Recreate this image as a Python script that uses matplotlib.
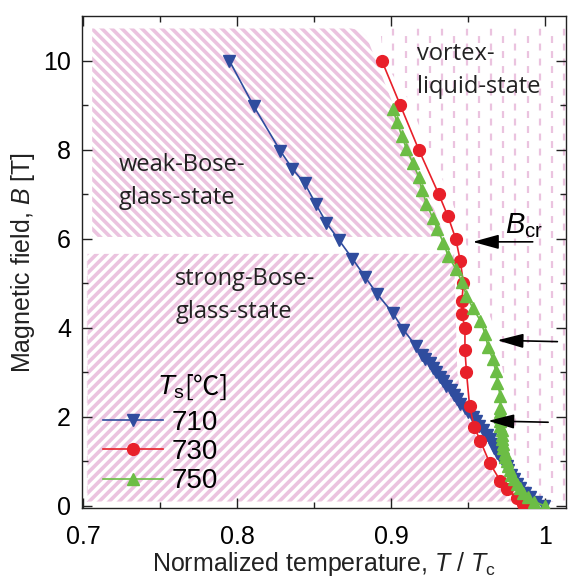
import numpy as np
import matplotlib
matplotlib.use("Agg")
import matplotlib.pyplot as plt
from matplotlib.patches import Polygon
from matplotlib.collections import LineCollection

# --- data ---
t710 = [0.795, 0.811, 0.828, 0.836, 0.844, 0.851, 0.858, 0.866, 0.875, 0.883,
        0.891, 0.901, 0.908, 0.916,
        0.920, 0.922, 0.925, 0.927, 0.929, 0.932, 0.934, 0.936, 0.939, 0.941,
        0.943, 0.945, 0.948, 0.950, 0.953, 0.955, 0.957, 0.960, 0.962, 0.964,
        0.966, 0.967, 0.969, 0.971, 0.973, 0.975, 0.976, 0.978, 0.980, 0.982,
        0.984, 0.987, 0.990, 0.994, 0.999]
b710 = [10.0, 8.97, 7.98, 7.57, 7.24, 6.79, 6.36, 5.98, 5.55, 5.15,
        4.76, 4.34, 3.96, 3.60,
        3.4, 3.3, 3.2, 3.1, 3.0, 2.9, 2.8, 2.7, 2.6, 2.5,
        2.4, 2.3, 2.2, 2.1, 2.0, 1.9, 1.8, 1.7, 1.6, 1.5,
        1.4, 1.3, 1.2, 1.1, 1.0, 0.9, 0.8, 0.7, 0.6, 0.5,
        0.4, 0.3, 0.2, 0.1, 0.0]

t730 = [0.894, 0.906, 0.918, 0.931, 0.937, 0.942, 0.945, 0.947, 0.946, 0.946,
        0.948, 0.948, 0.949, 0.951, 0.954, 0.958, 0.964, 0.971, 0.975, 0.982, 0.986]
b730 = [10.0, 9.0, 8.0, 7.0, 6.5, 6.0, 5.5, 5.0, 4.6, 4.3,
        4.0, 3.5, 3.0, 2.25, 1.78, 1.46, 0.97, 0.56, 0.38, 0.17, 0.04]

t750 = [0.901, 0.904, 0.907, 0.910, 0.914, 0.918, 0.920, 0.923, 0.927, 0.930,
        0.934, 0.937, 0.942, 0.946, 0.949, 0.953, 0.958, 0.961, 0.963, 0.966,
        0.968, 0.969, 0.971, 0.971,
        0.971, 0.971, 0.971, 0.971, 0.972, 0.972, 0.972, 0.973, 0.973, 0.974,
        0.974, 0.975, 0.976, 0.977, 0.978, 0.980, 0.982, 0.984, 0.986, 0.989,
        0.993, 1.000]
b750 = [8.92, 8.61, 8.31, 8.02, 7.71, 7.39, 7.10, 6.79, 6.47, 6.22,
        5.91, 5.62, 5.33, 5.03, 4.72, 4.45, 4.16, 3.87, 3.57, 3.30,
        3.03, 2.76, 2.47, 2.20,
        2.1, 2.0, 1.9, 1.8, 1.7, 1.6, 1.5, 1.4, 1.3, 1.2,
        1.1, 1.0, 0.9, 0.8, 0.7, 0.6, 0.5, 0.4, 0.3, 0.2,
        0.1, 0.0]

series_labels = ["710", "730", "750"]

# phase regions (T/Tc, B) outlines
weak_x = [0.706, 0.706, 0.874, 0.880, 0.884, 0.935]
weak_y = [6.04, 10.72, 10.72, 10.68, 10.55, 6.04]
strong_x = [0.703, 0.703, 0.941, 0.943, 0.946, 0.952, 0.960, 0.967, 0.973, 0.979]
strong_y = [0.1, 5.66, 5.66, 3.0, 2.4, 1.8, 1.2, 0.7, 0.35, 0.1]
liquid_x = [0.893, 1.0136, 1.0136, 0.995, 0.988, 0.982, 0.978, 0.975, 0.974,
            0.970, 0.965, 0.958, 0.952, 0.948, 0.940, 0.925, 0.910, 0.895]
liquid_y = [10.72, 10.72, 0.1, 0.1, 0.4, 0.8, 1.5, 2.2, 2.8,
            3.5, 4.2, 4.8, 5.4, 6.0, 6.8, 8.0, 9.2, 10.0]
strip_x = [0.6995, 0.7035, 0.7035, 0.6995]
strip_y = [0.1, 0.1, 5.66, 5.66]

XMIN, XMAX = 0.6994, 1.0136
YMIN, YMAX = -0.045, 11.0

plt.rcParams["font.family"] = ["Liberation Sans", "DejaVu Sans"]
plt.rcParams["mathtext.fontset"] = "custom"
plt.rcParams["mathtext.rm"] = "Liberation Sans"
plt.rcParams["mathtext.it"] = "Liberation Sans:italic"
plt.rcParams["lines.scale_dashes"] = False

fig = plt.figure(figsize=(5.68, 5.83), dpi=100)
ax = fig.add_axes([82 / 568, 1 - 508 / 583, 484 / 568, 492 / 583])
ax.set_xlim(XMIN, XMAX)
ax.set_ylim(YMIN, YMAX)

pink = "#EBC3DF"
# pixels per data unit, used to get 45 degree stripes
px_x = 484 / (XMAX - XMIN)
px_y = 492 / (YMAX - YMIN)
k = px_x / px_y

# vertical dashed pattern (vortex liquid)
cols = np.arange(0.7035, XMAX, 12.2 / px_x)
for px, py in [(liquid_x, liquid_y), (strip_x, strip_y)]:
    clip = Polygon(np.column_stack([px, py]), closed=True, facecolor="none",
                   edgecolor="none", zorder=0.4)
    ax.add_patch(clip)
    for j, off in enumerate([0.0, 5.4]):
        lc = ax.vlines(cols[j::2], YMIN, YMAX, colors=pink, linewidth=1.6,
                       linestyles=[(off, (5.0, 5.8))], zorder=0.5)
        lc.set_clip_path(clip)

# diagonal hatch (Bose glass regions)
def stripes(px, py, sign):
    patch = Polygon(np.column_stack([px, py]), closed=True, facecolor="white",
                    edgecolor="none", zorder=1)
    ax.add_patch(patch)
    step = 10.0 / px_y
    segs = []
    for c in np.arange(-60, 60, step):
        x0, x1 = XMIN, XMAX
        segs.append([(x0, c), (x1, c + sign * k * (x1 - x0))])
    lc = LineCollection(segs, colors=pink, linewidths=2.6, zorder=1.1)
    ax.add_collection(lc)
    lc.set_clip_path(patch)

stripes(weak_x, weak_y, -1)
stripes(strong_x, strong_y, 1)

ax.plot(t710, b710, color="#2F4C9E", marker="v", markersize=8.5, lw=1.2,
        label=series_labels[0], zorder=3)
ax.plot(t730, b730, color="#E8202A", marker="o", markersize=8.5, lw=1.2,
        label=series_labels[1], zorder=3)
ax.plot(t750, b750, color="#6CBD45", marker="^", markersize=8.5, lw=1.2,
        label=series_labels[2], zorder=3)

ax.legend(loc="upper left", bbox_to_anchor=(0.043, 0.200), frameon=False,
          fontsize=20, handlelength=2.16, handletextpad=0.33,
          labelspacing=0.12, borderpad=0, borderaxespad=0)
ax.text(0.748, 2.5, r"$T_\mathrm{s}$", fontsize=20, va="baseline", zorder=4)
ax.text(0.766, 2.5, "[℃]", fontsize=19, va="baseline", zorder=4,
        family=["Noto Sans CJK JP", "DejaVu Sans"])

region_font = dict(family="Open Sans", fontsize=17, color="#222222", zorder=4,
                   linespacing=1.5)
ax.text(0.917, 9.78, "vortex-\nliquid-state", va="center", **region_font)
ax.text(0.723, 7.28, "weak-Bose-\nglass-state", va="center", **region_font)
ax.text(0.760, 4.72, "strong-Bose-\nglass-state", va="center", **region_font)
ax.text(0.974, 6.13, r"$B_\mathrm{cr}$", fontsize=21, zorder=4)

arrow = dict(arrowstyle="-|>,head_length=0.8,head_width=0.22", color="black",
             lw=1.2, mutation_scale=20, shrinkA=0, shrinkB=0)
ax.annotate("", xy=(0.953, 5.93), xytext=(0.992, 5.93), arrowprops=arrow, zorder=4)
ax.annotate("", xy=(0.969, 3.72), xytext=(1.008, 3.69), arrowprops=arrow, zorder=4)
ax.annotate("", xy=(0.963, 1.91), xytext=(1.002, 1.88), arrowprops=arrow, zorder=4)

ax.set_xticks([0.7, 0.8, 0.9, 1.0])
ax.set_xticklabels(["0.7", "0.8", "0.9", "1"])
ax.set_xticks([0.75, 0.85, 0.95], minor=True)
ax.set_yticks([0, 2, 4, 6, 8, 10])
ax.set_yticks([1, 3, 5, 7, 9], minor=True)
ax.tick_params(which="both", direction="in", top=True, right=True, width=1.0,
               labelsize=18, color="#222222")
ax.tick_params(which="major", length=7)
ax.tick_params(which="minor", length=4)
ax.tick_params(axis="x", pad=12)
ax.tick_params(axis="y", pad=8)
for s in ax.spines.values():
    s.set_linewidth(1.0)
    s.set_color("#222222")

ax.set_xlabel(r"Normalized temperature, $T$ / $T_\mathrm{c}$", fontsize=18,
              labelpad=1, color="#222222")
ax.set_ylabel(r"Magnetic field, $B$ [T]", fontsize=18, labelpad=4,
              color="#222222")

fig.savefig("out.png", dpi=100)
